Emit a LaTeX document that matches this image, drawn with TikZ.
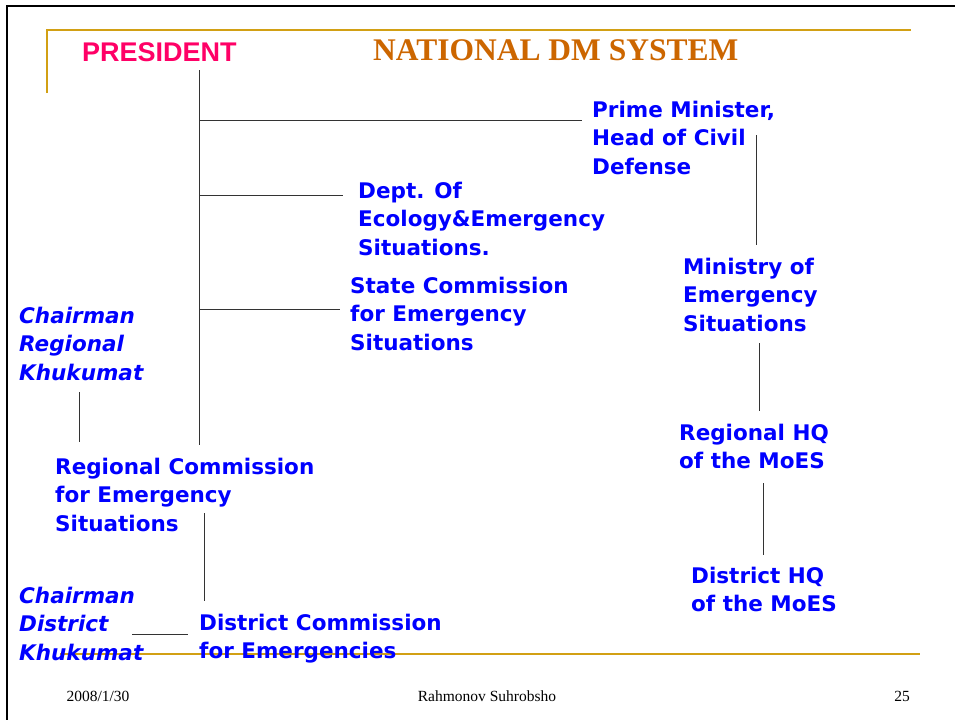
\documentclass[tikz,border=0pt]{standalone}
\usepackage{fontspec}
\newfontfamily\dv[BoldFont={* Bold},BoldItalicFont={* Bold Oblique}]{DejaVu Sans}
\newfontfamily\libsans{Liberation Sans}
\newfontfamily\libserif{Liberation Serif}
\definecolor{txtblue}{RGB}{0,0,255}
\definecolor{gold}{RGB}{210,160,20}
\definecolor{titlebrown}{RGB}{204,102,0}
\definecolor{presred}{RGB}{255,0,102}
\newcommand\mlines[1]{\begin{tabular}[t]{@{}l@{}}#1\end{tabular}}
\tikzset{
  unit/.style={text=txtblue, anchor=base west, inner sep=0pt,
    font=\dv\bfseries\fontsize{21.5}{28.5}\selectfont},
  chair/.style={text=txtblue, anchor=base west, inner sep=0pt,
    font=\dv\bfseries\itshape\fontsize{21.5}{28.5}\selectfont},
  link/.style={draw=black!80, line width=1pt},
  goldline/.style={draw=gold, line width=2pt},
  frameline/.style={draw=black, line width=2.5pt},
  foot/.style={inner sep=0pt, anchor=base, font=\libserif\fontsize{15.5}{18}\selectfont}
}
\begin{document}
\begin{tikzpicture}[x=1pt,y=-1pt]
\useasboundingbox (0,0) rectangle (955,720);
% frame and decoration
\coordinate (frTL) at (7,6);
\coordinate (frTR) at (955,6);
\coordinate (frBL) at (7,720);
\draw[frameline] (frTR) -- (frTL) -- (frBL);
\coordinate (gTL) at (47,30);
\coordinate (gTR) at (911,30);
\coordinate (gLB) at (47,93);
\draw[goldline] (gLB) -- (gTL) -- (gTR);
\coordinate (gBL) at (60,654);
\coordinate (gBR) at (920,654);
\draw[goldline] (gBL) -- (gBR);

% titles
\node[text=presred, anchor=base west, inner sep=0pt, font=\libsans\bfseries\fontsize{27}{30}\selectfont] (pres) at (82,61) {PRESIDENT};
\node[text=titlebrown, anchor=base west, inner sep=0pt, font=\libserif\bfseries\fontsize{31.5}{36}\selectfont] (title) at (373,60) {NATIONAL DM SYSTEM};

% units
\node[unit] (pm) at (592,117) {\mlines{Prime Minister,\\Head of Civil\\Defense}};
\node[unit] (dept) at (358,198) {\mlines{Dept. Of\\Ecology\&Emergency\\Situations.}};
\node[unit] (state) at (350,293) {\mlines{State Commission\\for Emergency\\Situations}};
\node[unit] (moes) at (683,274) {\mlines{Ministry of\\Emergency\\Situations}};
\node[unit] (reghq) at (679,440) {\mlines{Regional HQ\\of the MoES}};
\node[unit] (disthq) at (691,583) {\mlines{District HQ\\of the MoES}};
\node[unit] (regcom) at (55,474) {\mlines{Regional Commission\\for Emergency\\Situations}};
\node[unit] (distcom) at (199,630) {\mlines{District Commission\\for Emergencies}};
\node[chair] (chreg) at (19,323) {\mlines{Chairman\\Regional\\Khukumat}};
\node[chair] (chdist) at (19,603) {\mlines{Chairman\\District\\Khukumat}};

% connectors
\coordinate (trunkTop) at (199,70);
\coordinate (trunkBot) at (199,445);
\draw[link] (trunkTop) -- (trunkBot);
\coordinate (pmL) at (199,120);
\coordinate (pmR) at (582,120);
\draw[link] (pmL) -- (pmR);
\coordinate (deptL) at (199,195);
\coordinate (deptR) at (343,195);
\draw[link] (deptL) -- (deptR);
\coordinate (stateL) at (199,309);
\coordinate (stateR) at (340,309);
\draw[link] (stateL) -- (stateR);
\coordinate (pmB) at (756,135);
\coordinate (moesT) at (756,245);
\draw[link] (pmB) -- (moesT);
\coordinate (moesB) at (759,343);
\coordinate (reghqT) at (759,411);
\draw[link] (moesB) -- (reghqT);
\coordinate (reghqB) at (763,483);
\coordinate (disthqT) at (763,555);
\draw[link] (reghqB) -- (disthqT);
\coordinate (chregB) at (79,392);
\coordinate (regcomT) at (79,442);
\draw[link] (chregB) -- (regcomT);
\coordinate (regcomB) at (204,513);
\coordinate (distcomT) at (204,601);
\draw[link] (regcomB) -- (distcomT);
\coordinate (chdistR) at (132,634);
\coordinate (distcomL) at (188,634);
\draw[link] (chdistR) -- (distcomL);

% footer
\node[foot] (date) at (98,701) {2008/1/30};
\node[foot] (author) at (487,701) {Rahmonov Suhrobsho};
\node[foot] (page) at (902,701) {25};
\end{tikzpicture}
\end{document}
